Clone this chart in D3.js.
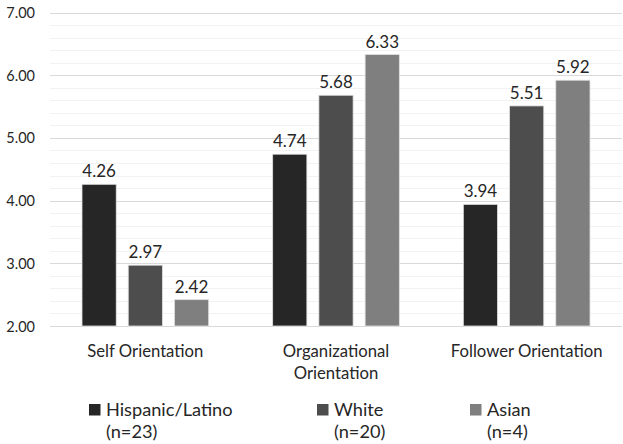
<!DOCTYPE html>
<html><head><meta charset="utf-8">
<script src="https://cdn.jsdelivr.net/npm/d3@7"></script>
<style>body{margin:0;background:#fff}svg{display:block}text{font-family:Lato,"Open Sans",sans-serif;fill:#262626}</style>
</head><body><svg id="c" width="623" height="444"></svg>
<script>
const categories = [["Self Orientation"], ["Organizational", "Orientation"], ["Follower Orientation"]];
const seriesNames = [["Hispanic/Latino", "(n=23)"], ["White", "(n=20)"], ["Asian", "(n=4)"]];
const hispanic = [4.26, 4.74, 3.94];
const white = [2.97, 5.68, 5.51];
const asian = [2.42, 6.33, 5.92];
const yTicks = [2, 3, 4, 5, 6, 7];
const colors = ["#262626", "#4d4d4d", "#7f7f7f"];

const series = [hispanic, white, asian];
const svg = d3.select("#c");
const x0 = d3.scaleBand().domain(d3.range(categories.length)).range([50, 622]);
const x1 = d3.scaleBand().domain(d3.range(series.length)).range([32, x0.bandwidth() - 32]).paddingInner(0.26);
const y = d3.scaleLinear().domain([2, 7]).range([326, 12.5]);

// minor grid
svg.append("g").selectAll("line").data(d3.range(2, 7.01, 0.2)).join("line")
  .attr("x1", 50).attr("x2", 622).attr("y1", d => Math.round(y(d)) + 0.5).attr("y2", d => Math.round(y(d)) + 0.5)
  .attr("stroke", "#f2f2f2");
// major grid
svg.append("g").selectAll("line").data(yTicks).join("line")
  .attr("x1", 50).attr("x2", 622).attr("y1", d => Math.round(y(d)) + 0.5).attr("y2", d => Math.round(y(d)) + 0.5)
  .attr("stroke", "#d9d9d9");
// y labels
svg.append("g").selectAll("text").data(yTicks).join("text")
  .attr("x", 35).attr("y", d => y(d) + 5.5).attr("text-anchor", "end")
  .style("font-size", "14.5px").text(d => d3.format(".2f")(d));

// bars
const g = svg.append("g");
series.forEach((vals, si) => {
  g.selectAll(".b" + si).data(vals).join("rect")
    .attr("x", (d, i) => x0(i) + x1(si)).attr("width", x1.bandwidth())
    .attr("y", d => y(d)).attr("height", d => y(2) - y(d))
    .attr("fill", colors[si]).attr("stroke", "#e0e0e0").attr("stroke-width", 0.8);
  g.selectAll(".l" + si).data(vals).join("text")
    .attr("x", (d, i) => x0(i) + x1(si) + x1.bandwidth() / 2).attr("y", d => y(d) - 7)
    .attr("text-anchor", "middle").style("font-size", "17px").text(d => d3.format(".2f")(d));
});

// category labels
categories.forEach((lines, i) => {
  const cx = x0(i) + x0.bandwidth() / 2;
  lines.forEach((l, k) => svg.append("text").attr("text-anchor", "middle").style("font-size", "16.7px")
    .attr("x", cx).attr("y", 357 + k * 22).text(l));
});

// legend
const legX = [89, 317, 470];
seriesNames.forEach((lines, i) => {
  svg.append("rect").attr("x", legX[i]).attr("y", 404).attr("width", 11.5).attr("height", 11.5).attr("fill", colors[i]);
  lines.forEach((l, k) => svg.append("text").style("font-size", "18.2px")
    .attr("x", legX[i] + 17).attr("y", 416 + k * 22).text(l));
});
</script></body></html>
